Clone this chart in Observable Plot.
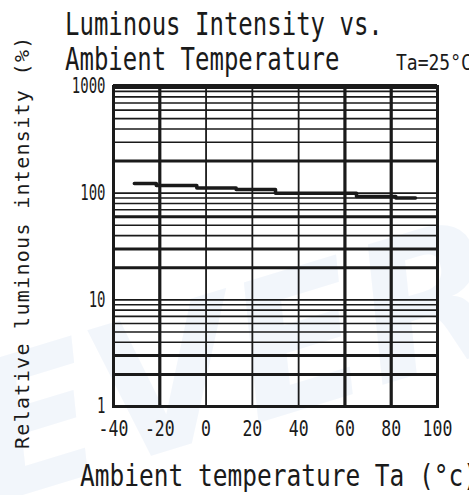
<!DOCTYPE html>
<html><head><meta charset="utf-8">
<script src="https://cdn.jsdelivr.net/npm/d3@7"></script>
<script src="https://cdn.jsdelivr.net/npm/@observablehq/plot@0.6"></script>
<style>
body{margin:0;background:#fff;overflow:hidden}
#wrap{position:relative;width:469px;height:495px;overflow:hidden;background:#fff}
#wrap svg{position:absolute;left:0;top:0}
</style></head><body><div id="wrap"></div><script>
// Data (step curve)
const temps = [-31, -21.5, -4, 13, 30, 65, 82, 90.5];
const intensity = [123, 118, 112, 108, 100, 93, 90, 90];
const xTicks = [-40, -20, 0, 20, 40, 60, 80, 100];
const yTicks = [1, 10, 100, 1000];
const xGridThin = [0, 20, 40];
const xGridThick = [-20, 60, 80];
const yGridThin = [4, 5, 6, 7, 8, 9, 10, 40, 50, 70, 80, 90, 100, 300, 400, 500, 600, 700, 800, 900];
const yGridThick = [2, 3, 20, 30, 60, 200];
const titleLines = ["Luminous Intensity vs.", "Ambient Temperature"];
const condition = "Ta=25°C";
const xLabel = "Ambient temperature Ta (°c)";
const yLabel = "Relative luminous intensity (%)";

const data = temps.map((t, i) => ({t, v: intensity[i]}));
const W = 469, H = 495;
const font = "DejaVu Sans Mono";
const ink = "#1a1a1a";

const wrap = d3.select("#wrap");

// watermark (background)
const wm = wrap.append("svg").attr("width", W).attr("height", H);
wm.append("text").text("EVERLIGHT")
  .attr("transform", "translate(-10,505) rotate(-17)")
  .attr("font-family", "DejaVu Sans").attr("font-weight", "bold").attr("font-style", "italic")
  .attr("font-size", 190).attr("fill", "#e6eef9").attr("opacity", 0.5);

const chart = Plot.plot({
  width: W, height: H,
  marginLeft: 113, marginRight: 32, marginTop: 86, marginBottom: 89,
  style: {background: "transparent", fontFamily: font, color: ink},
  x: {domain: [-40, 100], axis: null, label: null},
  y: {type: "log", domain: [1, 1000], axis: null, label: null},
  marks: [
    Plot.ruleY(yGridThin, {stroke: ink, strokeWidth: 1.6}),
    Plot.ruleY(yGridThick, {stroke: ink, strokeWidth: 3}),
    Plot.ruleX(xGridThin, {stroke: ink, strokeWidth: 1.8}),
    Plot.ruleX(xGridThick, {stroke: ink, strokeWidth: 3.2}),
    Plot.frame({stroke: ink, strokeWidth: 3}),
    Plot.ruleY([1000], {stroke: ink, strokeWidth: 5}),
    Plot.line(data, {x: "t", y: "v", curve: "step-after", stroke: ink, strokeWidth: 3.5}),
    Plot.axisX(xTicks, {label: null, tickSize: 0, tickPadding: 14, fontSize: 16.5, fill: ink, tickFormat: d => String(d)}),
    Plot.axisY(yTicks, {label: null, tickSize: 0, tickPadding: 8, fontSize: 14, fill: ink, tickFormat: d => String(d)})
  ]
});
wrap.node().appendChild(chart);
const cs = d3.select(chart);
function stretch(sel, k) {
  sel.each(function() {
    const tr = this.getAttribute("transform") || "";
    this.setAttribute("transform", tr + ` scale(1,${k})`);
  });
}
stretch(cs.selectAll('g[aria-label="x-axis tick label"] text'), 1.3);
stretch(cs.selectAll('g[aria-label="y-axis tick label"] text'), 1.5);

// titles & axis labels overlay
const ov = wrap.append("svg").attr("width", W).attr("height", H);
const g = ov.append("g").attr("font-family", font).attr("fill", ink);
g.append("text").text(titleLines[0]).attr("font-size", 24)
  .attr("transform", "translate(65,35) scale(1,1.3)");
g.append("text").text(titleLines[1]).attr("font-size", 24)
  .attr("transform", "translate(65,70) scale(1,1.3)");
g.append("text").text(condition).attr("font-size", 18)
  .attr("transform", "translate(396,70) scale(1,1.2)");
g.append("text").text(xLabel).attr("font-size", 24.5)
  .attr("transform", "translate(80,486) scale(1,1.25)");
g.append("text").text(yLabel).attr("font-size", 20).attr("letter-spacing", 1.3)
  .attr("transform", "translate(29,449) rotate(-90)");
</script></body></html>
